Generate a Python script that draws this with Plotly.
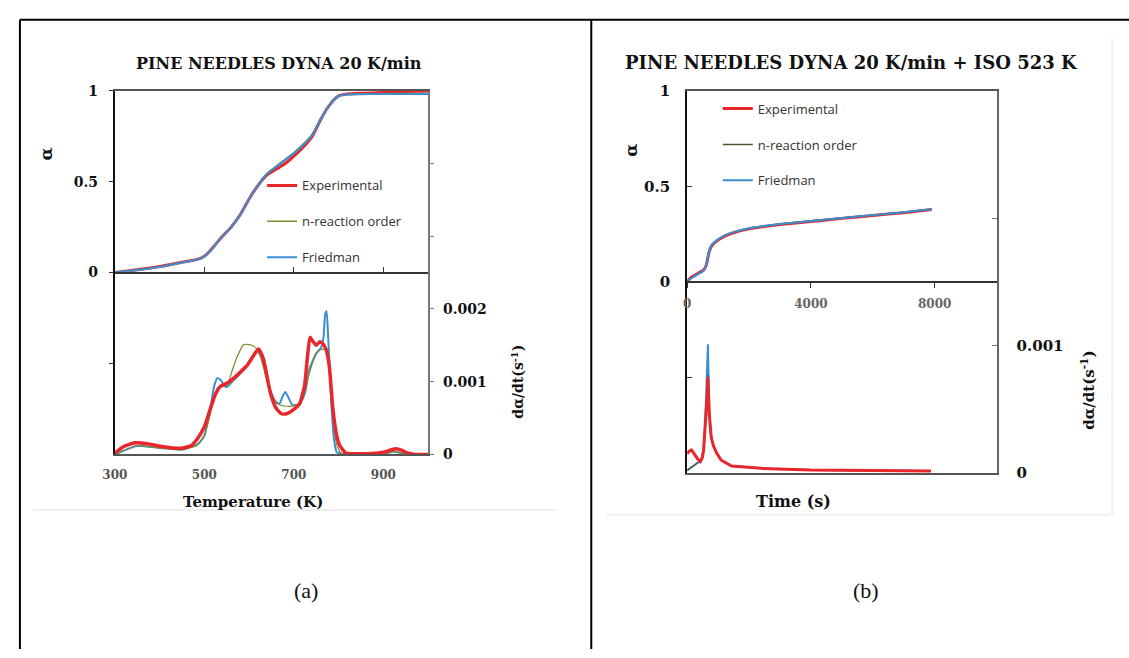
import plotly.graph_objects as go

W, H = 1129, 658

# ---------------- Panel (a): PINE NEEDLES DYNA 20 K/min ----------------
a_alpha_T = [300, 350, 400, 450, 485, 500, 510, 525, 540, 560, 580, 600, 620, 640, 660,
             680, 700, 720, 740, 760, 775, 790, 800, 820, 850, 900, 950, 1000]
a_alpha_exp = [0, 0.015, 0.033, 0.057, 0.073, 0.09, 0.112, 0.155, 0.198, 0.25, 0.318, 0.405,
               0.48, 0.537, 0.568, 0.598, 0.64, 0.688, 0.745, 0.842, 0.905, 0.952, 0.972,
               0.982, 0.986, 0.99, 0.995, 0.998]
a_alpha_nord = [0, 0.014, 0.031, 0.055, 0.071, 0.088, 0.11, 0.153, 0.197, 0.25, 0.318, 0.405,
                0.482, 0.545, 0.585, 0.622, 0.66, 0.705, 0.758, 0.845, 0.905, 0.95, 0.972,
                0.98, 0.982, 0.984, 0.985, 0.985]
a_alpha_fried = [0, 0.014, 0.031, 0.055, 0.071, 0.088, 0.11, 0.154, 0.198, 0.25, 0.318, 0.405,
                 0.481, 0.543, 0.58, 0.618, 0.655, 0.70, 0.752, 0.843, 0.905, 0.95, 0.971,
                 0.979, 0.981, 0.982, 0.982, 0.982]

a_rate_exp_T = [300, 320, 345, 370, 404, 448, 470, 485, 500, 514, 525, 535, 550, 560, 580, 595,
                610, 621, 632, 647, 660, 672, 684, 700, 713, 724, 730, 736, 742, 750, 758, 765,
                772, 779, 787, 795, 802, 816, 860, 900, 915, 928, 940, 950, 970, 1000]
a_rate_exp = [0.00002, 0.00011, 0.00016, 0.00015, 0.00011, 0.000085, 0.00012, 0.00022, 0.00038,
              0.00064, 0.00083, 0.00093, 0.00098, 0.00102, 0.00113, 0.00122, 0.00136, 0.00145,
              0.00131, 0.00086, 0.00064, 0.00056, 0.00056, 0.00062, 0.0007, 0.00095, 0.00132,
              0.00161, 0.00156, 0.0015, 0.00155, 0.00152, 0.00144, 0.00122, 0.00064, 0.00028,
              0.00013, 0.00002, 0.00001, 0.00003, 0.00006, 0.00008, 0.00006, 0.00003, 0.0, 0.0]

a_rate_fried_T = [300, 350, 400, 450, 485, 500, 514, 522, 529, 537, 545, 551, 565, 580, 595, 610,
                  617, 628, 645, 660, 668, 675, 681, 688, 697, 713, 725, 735, 750, 760, 766, 770,
                  773, 776, 779, 784, 790, 796, 820, 900, 925, 945, 1000]
a_rate_fried = [0.0, 0.00012, 0.00009, 0.000065, 0.00014, 0.00026, 0.00066, 0.00094, 0.00105,
                0.00102, 0.00094, 0.00093, 0.00102, 0.00111, 0.00122, 0.00137, 0.00143, 0.00134,
                0.00092, 0.00071, 0.0007, 0.0008, 0.00086, 0.00078, 0.00068, 0.00069, 0.00085,
                0.00118, 0.00139, 0.00146, 0.0016, 0.00193, 0.00197, 0.00169, 0.00131, 0.00066,
                0.00019, 0.00003, 0.0, 0.00001, 0.00004, 0.00001, 0.0]

a_rate_nord_T = [300, 350, 400, 450, 485, 500, 514, 529, 540, 551, 562, 573, 588, 600, 610, 621,
                 635, 647, 660, 669, 691, 713, 725, 735, 750, 757, 772, 778, 783, 790, 795, 805,
                 830, 900, 925, 945, 1000]
a_rate_nord = [0.0, 0.00012, 0.00009, 0.000065, 0.00013, 0.00025, 0.00058, 0.00091, 0.00094,
               0.00095, 0.00115, 0.00134, 0.00151, 0.00151, 0.00149, 0.00142, 0.00113, 0.00086,
               0.00073, 0.00068, 0.00066, 0.0007, 0.00089, 0.00113, 0.00139, 0.00144, 0.00144,
               0.00122, 0.00086, 0.00038, 0.00015, 0.00002, 0.0, 0.00001, 0.00004, 0.00001, 0.0]

# ---------------- Panel (b): DYNA 20 K/min + ISO 523 K ----------------
b_alpha_t = [0, 100, 250, 400, 520, 600, 650, 700, 750, 800, 950, 1200, 1500, 2000, 3000,
             4000, 5000, 6000, 7000, 7900]
b_alpha_exp = [0, 0.02, 0.035, 0.05, 0.06, 0.08, 0.11, 0.15, 0.175, 0.19, 0.213, 0.238, 0.257,
               0.277, 0.300, 0.316, 0.332, 0.347, 0.362, 0.378]
b_alpha_nord = [0, 0.015, 0.03, 0.045, 0.057, 0.078, 0.11, 0.152, 0.178, 0.193, 0.216, 0.241,
                0.259, 0.279, 0.302, 0.318, 0.334, 0.349, 0.364, 0.38]
b_alpha_fried = [0, 0.015, 0.03, 0.045, 0.057, 0.079, 0.112, 0.155, 0.18, 0.195, 0.217, 0.242,
                 0.26, 0.28, 0.302, 0.318, 0.334, 0.349, 0.364, 0.38]

b_rate_t = [0, 60, 139, 200, 267, 340, 427, 490, 533, 587, 640, 672, 715, 779, 853, 955, 1100,
            1440, 2400, 4000, 5500, 7000, 7880]
b_rate_exp = [0.00015, 0.00017, 0.00018, 0.00016, 0.00013, 0.00011, 0.00009, 0.00012, 0.00018,
              0.00036, 0.00059, 0.00075, 0.00046, 0.00028, 0.00021, 0.000156, 0.0001, 0.000054,
              0.000036, 0.000023, 0.000019, 0.000016, 0.000015]
b_rate_nord = [0.00002, 0.00003, 0.00005, 0.00006, 0.00007, 0.00008, 0.00009, 0.00012, 0.00018,
               0.00036, 0.0006, 0.00077, 0.00047, 0.00028, 0.00021, 0.000156, 0.0001, 0.000054,
               0.000036, 0.000023, 0.000019, 0.000016, 0.000015]
b_rate_fried = [0.00002, 0.00003, 0.00005, 0.00006, 0.00007, 0.00008, 0.00009, 0.00013, 0.0002,
                0.0004, 0.0008, 0.00101, 0.00048, 0.00028, 0.00021, 0.000156, 0.0001, 0.000054,
                0.000036, 0.000023, 0.000019, 0.000016, 0.000015]

series_names = ["Experimental", "n-reaction order", "Friedman"]
a_ticks_T = [300, 500, 700, 900]
b_ticks_t = [0, 4000, 8000]
alpha_ticks = [0, 0.5, 1]
a_rate_ticks = [0, 0.001, 0.002]
b_rate_ticks = [0, 0.001]

RED = "#e8262b"
GREEN = "#7d8a2e"
GREEN_B = "#4f5530"
BLUE = "#3b8fd0"
SERIF = "DejaVu Serif"


def px(x):
    return x / W


def py(y):
    return 1 - y / H


A_X = [px(103), px(420)]
A_Y = [py(458), py(84)]
B_X = [px(682), px(995)]
B_Y = [py(477), py(84)]

fig = go.Figure()

# ---- panel (a) alpha : main subplot x / y
for name, vals, col, w in [(series_names[0], a_alpha_exp, RED, 3),
                           (series_names[1], a_alpha_nord, GREEN, 1.4),
                           (series_names[2], a_alpha_fried, BLUE, 2)]:
    fig.add_trace(go.Scatter(x=a_alpha_T, y=vals, mode="lines", name=name,
                             line=dict(color=col, width=w, shape="spline", smoothing=0.5),
                             xaxis="x", yaxis="y", legend="legend", legendgroup="a" + name))
# ---- panel (a) rate : overlay subplot x3 / y2
for name, T, vals, col, w in [(series_names[2], a_rate_fried_T, a_rate_fried, BLUE, 2),
                              (series_names[1], a_rate_nord_T, a_rate_nord, GREEN, 1.2),
                              (series_names[0], a_rate_exp_T, a_rate_exp, RED, 3.5)]:
    fig.add_trace(go.Scatter(x=T, y=vals, mode="lines", name=name, showlegend=False,
                             line=dict(color=col, width=w, shape="spline", smoothing=0.5),
                             xaxis="x3", yaxis="y2", legend="legend", legendgroup="a" + name))

# ---- panel (b) alpha : main subplot x2 / y3
for name, vals, col, w in [(series_names[0], b_alpha_exp, RED, 3),
                           (series_names[1], b_alpha_nord, GREEN_B, 1.4),
                           (series_names[2], b_alpha_fried, BLUE, 2)]:
    fig.add_trace(go.Scatter(x=b_alpha_t, y=vals, mode="lines", name=name,
                             line=dict(color=col, width=w, shape="spline", smoothing=0.4),
                             xaxis="x2", yaxis="y3", legend="legend2", legendgroup="b" + name))
# ---- panel (b) rate : overlay subplot x4 / y4
for name, vals, col, w in [(series_names[2], b_rate_fried, BLUE, 2),
                           (series_names[1], b_rate_nord, GREEN_B, 1.2),
                           (series_names[0], b_rate_exp, RED, 3)]:
    fig.add_trace(go.Scatter(x=b_rate_t, y=vals, mode="lines", name=name, showlegend=False,
                             line=dict(color=col, width=w),
                             xaxis="x4", yaxis="y4", legend="legend2", legendgroup="b" + name))

tick_font_a = dict(family=SERIF, size=14, color="#111", weight="bold")
tick_font_b = dict(family=SERIF, size=15, color="#111", weight="bold")

fig.update_layout(
    width=W, height=H, margin=dict(l=0, r=0, t=0, b=0),
    paper_bgcolor="white", plot_bgcolor="white",
    xaxis=dict(domain=A_X, anchor="y", range=[300, 1000], tickvals=a_ticks_T,
               ticks="", showgrid=False, zeroline=False, showline=True, linecolor="#555",
               linewidth=2, mirror=True, ticklabelstandoff=8,
               tickfont=dict(family=SERIF, size=12, color="#555", weight="bold")),
    xaxis3=dict(overlaying="x", anchor="free", position=(A_Y[0] + A_Y[1]) / 2,
                range=[300, 1000], tickvals=a_ticks_T, showticklabels=False,
                ticks="inside", ticklen=5, tickcolor="#333", showgrid=False, zeroline=False,
                showline=True, linecolor="#333", linewidth=1.5),
    yaxis=dict(domain=A_Y, anchor="x", range=[-1, 1], tickvals=alpha_ticks,
               ticks="outside", ticklen=4, tickcolor="#333",
               minor=dict(tickvals=[-0.5], ticks="outside", ticklen=4, tickcolor="#333"),
               showgrid=False, zeroline=False, showline=True, linecolor="#111", linewidth=2,
               ticklabelstandoff=8, tickfont=tick_font_a),
    yaxis2=dict(overlaying="y", anchor="x3", side="right", range=[0, 0.005],
                tickvals=a_rate_ticks, tickformat=".3~f", ticks="outside", ticklen=4,
                tickcolor="#777",
                minor=dict(tickvals=[0.003, 0.004], ticks="outside", ticklen=4,
                           tickcolor="#777"),
                showgrid=False, zeroline=False, showline=True,
                linecolor="#777", linewidth=2, ticklabelstandoff=6, tickfont=tick_font_a),
    xaxis2=dict(domain=B_X, anchor="y3", range=[0, 10000], showticklabels=False, ticks="",
                showgrid=False, zeroline=False, showline=True, linecolor="#555", linewidth=2,
                mirror=True),
    xaxis4=dict(overlaying="x2", anchor="free", position=(B_Y[0] + B_Y[1]) / 2,
                range=[0, 10000], tickvals=b_ticks_t, ticks="outside", ticklen=5,
                tickcolor="#333", showgrid=False, zeroline=False, showline=True,
                linecolor="#333", linewidth=1.5, ticklabelstandoff=6,
                tickfont=dict(family=SERIF, size=12, color="#666", weight="bold")),
    yaxis3=dict(domain=B_Y, anchor="x2", range=[-1, 1], tickvals=alpha_ticks,
                ticks="inside", ticklen=5, tickcolor="#333",
                minor=dict(tickvals=[-0.5], ticks="inside", ticklen=5, tickcolor="#333"),
                showgrid=False, zeroline=False, showline=True, linecolor="#111", linewidth=2,
                ticklabelstandoff=12, tickfont=tick_font_b),
    yaxis4=dict(overlaying="y3", anchor="x4", side="right", range=[0, 0.003],
                tickvals=b_rate_ticks, tickformat=".3~f", ticks="inside",
                ticklen=5, tickcolor="#777",
                minor=dict(tickvals=[0.002], ticks="inside", ticklen=5, tickcolor="#777"),
                showgrid=False, zeroline=False, showline=True,
                linecolor="#666", linewidth=2, ticklabelstandoff=15, tickfont=tick_font_b),
    legend=dict(x=px(252), y=py(166), xanchor="left", yanchor="top",
                bgcolor="rgba(0,0,0,0)", itemwidth=30, tracegroupgap=16,
                traceorder="grouped", font=dict(family="Open Sans", size=13, color="#333")),
    legend2=dict(x=px(713), y=py(87), xanchor="left", yanchor="top",
                 bgcolor="rgba(0,0,0,0)", itemwidth=30, tracegroupgap=16,
                 traceorder="grouped", font=dict(family="Open Sans", size=13, color="#333")),
    showlegend=True,
)

ann = []


def add_text(x, y, text, size, angle=0, weight="bold", family=SERIF, color="#111"):
    ann.append(dict(x=px(x), y=py(y), xref="paper", yref="paper", text=text, showarrow=False,
                    textangle=angle, xanchor="center", yanchor="middle",
                    font=dict(family=family, size=size, color=color, weight=weight)))


add_text(269, 56, "PINE NEEDLES DYNA 20 K/min", 16)
add_text(848, 55, "PINE NEEDLES DYNA 20 K/min + ISO 523 K", 18)
add_text(33, 149, "α", 17, angle=-90)
add_text(625, 145, "α", 17, angle=-90)
add_text(510, 383, "dα/dt(s<sup>-1</sup>)", 14, angle=-90)
add_text(1088, 392, "dα/dt(s<sup>-1</sup>)", 15, angle=-90)
add_text(243, 507, "Temperature (K)", 15)
add_text(790, 506, "Time (s)", 16)
add_text(296, 598, "(a)", 22, weight="normal", family="Liberation Serif")
add_text(863, 598, "(b)", 22, weight="normal", family="Liberation Serif")
fig.update_layout(annotations=ann)

shapes = []


def line(x0, y0, x1, y1, color="black", width=2):
    shapes.append(dict(type="line", xref="paper", yref="paper", x0=px(x0), y0=py(y0),
                       x1=px(x1), y1=py(y1), line=dict(color=color, width=width)))


# faint scan edges of the embedded images
line(20, 515, 549, 515, color="#efefef", width=2)
line(600, 520, 1110, 520, color="#efefef", width=2)
line(1112, 30, 1112, 520, color="#efefef", width=2)
# table borders
line(7, 11, 1129, 11)
line(7, 11, 7, 658)
line(585, 11, 585, 658)
fig.update_layout(shapes=shapes)

fig.write_html("out.html",
               post_script="document.body.style.margin='0';document.body.style.overflow='hidden';")
